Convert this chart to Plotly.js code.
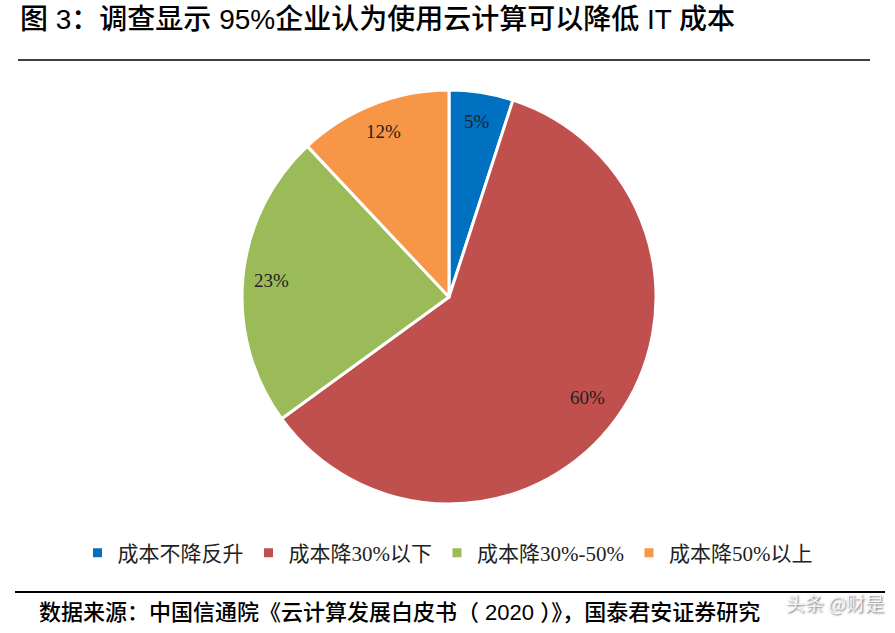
<!DOCTYPE html>
<html>
<head>
<meta charset="utf-8">
<script src="https://cdn.plot.ly/plotly-3.0.1.min.js"></script>
<style>
  html, body { margin: 0; padding: 0; background: #fff; }
  #chart { width: 895px; height: 633px; }
</style>
</head>
<body>
<div id="chart"></div>
<script>
// survey share, clockwise from 12 o'clock
const categories = ['成本不降反升', '成本降30%以下', '成本降30%-50%', '成本降50%以上'];
const shares = [5, 60, 23, 12];
const sliceColors = ['#0070C0', '#C0504D', '#9BBB59', '#F79646'];

const W = 895;
const H = 633;
// pie box in pixels
const pieLeft = 242, pieRight = 656, pieTop = 90, pieBottom = 504;
const cx = (pieLeft + pieRight) / 2;
const cy = (pieTop + pieBottom) / 2;
const radius = (pieRight - pieLeft) / 2;

// percent labels sit near the rim, placed from the slice mid angles
const total = shares.reduce((a, b) => a + b, 0);
let cum = 0;
const labelNotes = shares.map(v => {
  const mid = (cum + v / 2) / total * 2 * Math.PI;
  cum += v;
  const r = radius * (v > 50 ? 0.83 : 0.86);
  const px = cx + r * Math.sin(mid);
  const py = cy - r * Math.cos(mid);
  return {
    text: Math.round(v / total * 100) + '%',
    x: px / W,
    y: 1 - py / H,
    xref: 'paper',
    yref: 'paper',
    xanchor: 'center',
    yanchor: 'middle',
    showarrow: false,
    font: { family: 'Liberation Serif, serif', size: 19, color: '#222' },
  };
});

const data = [
  {
    type: 'pie',
    values: shares,
    labels: categories,
    sort: false,
    direction: 'clockwise',
    rotation: 0,
    textinfo: 'none',
    hoverinfo: 'label+percent',
    marker: {
      colors: sliceColors,
      line: { color: '#ffffff', width: 3 },
    },
    domain: {
      x: [pieLeft / W, pieRight / W],
      y: [1 - pieBottom / H, 1 - pieTop / H],
    },
  },
];

const layout = {
  width: W,
  height: H,
  margin: { l: 0, r: 0, t: 0, b: 0 },
  paper_bgcolor: '#ffffff',
  showlegend: true,
  legend: {
    orientation: 'h',
    x: 0.5,
    xanchor: 'center',
    y: 1 - 553 / H,
    yanchor: 'middle',
    font: { family: 'Liberation Serif, Noto Sans CJK SC, serif', size: 21, color: '#222' },
    itemwidth: 30,
    traceorder: 'normal',
  },
  annotations: labelNotes.concat([
    {
      text: '图 3：调查显示 95%企业认为使用云计算可以降低 IT 成本',
      x: 18 / W,
      y: 1 - 20 / H,
      xref: 'paper',
      yref: 'paper',
      xanchor: 'left',
      yanchor: 'middle',
      showarrow: false,
      font: { family: 'Liberation Sans, Noto Sans CJK SC, sans-serif', size: 28, color: '#000', weight: 500 },
    },
    {
      text: '数据来源：中国信通院《云计算发展白皮书（ 2020 ）》，国泰君安证券研究',
      x: 37 / W,
      y: 1 - 612 / H,
      xref: 'paper',
      yref: 'paper',
      xanchor: 'left',
      yanchor: 'middle',
      showarrow: false,
      font: { family: 'Liberation Sans, Noto Sans CJK SC, sans-serif', size: 22, color: '#000', weight: 500 },
    },
    {
      text: '头条 @财是',
      x: 886 / W,
      y: 1 - 602 / H,
      xref: 'paper',
      yref: 'paper',
      xanchor: 'right',
      yanchor: 'middle',
      showarrow: false,
      font: { family: 'Noto Sans CJK SC, sans-serif', size: 19, color: 'rgba(255,255,255,0.85)', shadow: '1px 1px 2px #555' },
    },
  ]),
  shapes: [
    {
      type: 'line', xref: 'paper', yref: 'paper',
      x0: 18 / W, x1: 870 / W, y0: 1 - 60 / H, y1: 1 - 60 / H,
      line: { color: '#000', width: 1.5 },
    },
    {
      type: 'line', xref: 'paper', yref: 'paper',
      x0: 15 / W, x1: 885 / W, y0: 1 - 592 / H, y1: 1 - 592 / H,
      line: { color: '#000', width: 2 },
    },
  ],
};

Plotly.newPlot('chart', data, layout, { displayModeBar: false });
</script>
</body>
</html>
